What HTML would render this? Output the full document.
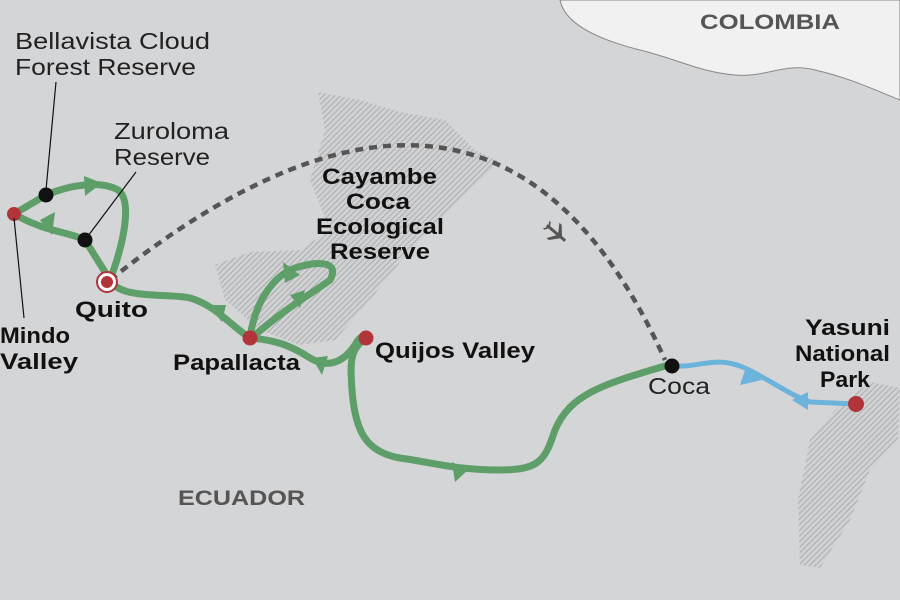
<!DOCTYPE html>
<html><head><style>html,body{margin:0;padding:0;background:#d4d5d7}svg{display:block}text{font-family:"Liberation Sans",sans-serif}</style></head><body>
<svg width="900" height="600" viewBox="0 0 900 600">
<defs><pattern id="h" width="4" height="4" patternUnits="userSpaceOnUse" patternTransform="rotate(45)"><rect width="4" height="4" fill="#d0d1d3"/><line x1="0" y1="0" x2="0" y2="4" stroke="#9a9b9d" stroke-width="1.3"/></pattern></defs>
<rect width="900" height="600" fill="#d4d5d7"/>
<path d="M560,0 C565,25 600,40 640,50 C680,60 700,72 735,75 C765,78 785,62 815,70 C850,78 875,90 900,100 L900,0 Z" fill="#f1f1f2" stroke="#888" stroke-width="1"/>
<path d="M318,92 L360,100 L400,112 L445,120 L475,150 L500,162 L470,190 L430,230 L400,262 L370,300 L335,340 L300,345 L260,330 L225,300 L215,265 L250,252 L300,250 L330,230 L310,180 L325,130 Z" fill="url(#h)"/>
<path d="M870,382 L900,388 L898,440 L870,470 L850,520 L820,568 L800,565 L798,500 L810,440 L835,410 Z" fill="url(#h)"/>
<path d="M110,280 Q492,-25 665,360" fill="none" stroke="#555" stroke-width="4.5" stroke-dasharray="8,6"/>
<g transform="translate(556,233) rotate(40)" fill="#555"><path d="M-12,0 L12,0" stroke="#555" stroke-width="3"/><path d="M2,-1 L-4,-10 L-1,-10 L7,-1 Z M2,1 L-4,10 L-1,10 L7,1 Z M-10,0 L-13,-5 L-11,-5 L-8,0 Z M-10,0 L-13,5 L-11,5 L-8,0Z"/></g>
<g fill="none" stroke="#5e9e68" stroke-width="7" stroke-linecap="round" stroke-linejoin="round">
<path d="M14,214 L46,195 C70,185 100,180 118,190 C132,200 125,240 110,280"/>
<path d="M110,280 L85,240 C70,232 45,232 14,214"/>
<path d="M110,280 C120,300 170,293 190,298 C215,305 230,325 250,338"/>
<path d="M250,338 C255,300 275,275 295,268 C320,260 340,262 330,280 C310,295 290,305 255,335"/>
<path d="M250,338 C275,340 290,345 310,358 C330,370 345,360 355,345 C360,335 366,335 366,338"/>
<path d="M366,338 C350,350 350,360 352,390 C355,430 365,452 400,458 C430,462 455,470 500,470 C540,470 545,460 555,430 C570,395 600,385 665,366"/>
</g>
<path d="M672,366 C700,368 715,355 745,368 C770,380 790,395 810,402 L856,404" fill="none" stroke="#6cb3dc" stroke-width="5"/>
<g fill="#5e9e68">
<path d="M84,176 L102,183 L85,196 Z"/><path d="M40,220 L55,212 L52,235 Z"/>
<path d="M208,305 L222,322 L226,305 Z"/><path d="M283,262 L300,275 L285,283 Z"/><path d="M290,295 L305,290 L300,308 Z"/>
<path d="M312,358 L328,356 L322,375 Z"/><path d="M452,462 L468,470 L455,482 Z"/>
</g>
<g fill="#6cb3dc"><path d="M745,370 L762,380 L740,385 Z"/><path d="M792,400 L808,392 L808,410 Z"/></g>
<circle cx="14" cy="214" r="7" fill="#b0343a"/>
<circle cx="46" cy="195" r="7.5" fill="#111"/>
<circle cx="85" cy="240" r="7.5" fill="#111"/>
<circle cx="107" cy="282" r="10" fill="#fff" stroke="#b0343a" stroke-width="2"/><circle cx="107" cy="282" r="6" fill="#b0343a"/>
<circle cx="250" cy="338" r="7.5" fill="#b0343a"/>
<circle cx="366" cy="338" r="7.5" fill="#b0343a"/>
<circle cx="672" cy="366" r="7.5" fill="#111"/>
<circle cx="856" cy="404" r="8" fill="#b0343a"/>
<g stroke="#111" stroke-width="1.2"><line x1="56" y1="82" x2="46" y2="190"/><line x1="136" y1="172" x2="88" y2="236"/><line x1="14" y1="218" x2="24" y2="318"/></g>
<g font-size="23" fill="#222" lengthAdjust="spacingAndGlyphs">
<text x="15" y="49" textLength="195" lengthAdjust="spacingAndGlyphs">Bellavista Cloud</text><text x="15" y="75" textLength="181" lengthAdjust="spacingAndGlyphs">Forest Reserve</text>
<text x="114" y="139" textLength="115" lengthAdjust="spacingAndGlyphs">Zuroloma</text><text x="114" y="165" textLength="96" lengthAdjust="spacingAndGlyphs">Reserve</text>
<text x="648" y="394" textLength="62" lengthAdjust="spacingAndGlyphs">Coca</text>
</g>
<g font-size="22" font-weight="bold" fill="#111">
<text x="75" y="317" textLength="73" lengthAdjust="spacingAndGlyphs">Quito</text>
<text x="0" y="343" textLength="70" lengthAdjust="spacingAndGlyphs">Mindo</text><text x="0" y="369" textLength="78" lengthAdjust="spacingAndGlyphs">Valley</text>
<text x="173" y="370" textLength="127" lengthAdjust="spacingAndGlyphs">Papallacta</text>
<text x="375" y="358" textLength="160" lengthAdjust="spacingAndGlyphs">Quijos Valley</text>
<text x="322" y="184" textLength="115" lengthAdjust="spacingAndGlyphs">Cayambe</text><text x="346" y="209" textLength="64" lengthAdjust="spacingAndGlyphs">Coca</text><text x="316" y="234" textLength="128" lengthAdjust="spacingAndGlyphs">Ecological</text><text x="330" y="259" textLength="100" lengthAdjust="spacingAndGlyphs">Reserve</text>
<text x="805" y="335" textLength="85" lengthAdjust="spacingAndGlyphs">Yasuni</text><text x="795" y="361" textLength="95" lengthAdjust="spacingAndGlyphs">National</text><text x="820" y="387" textLength="50" lengthAdjust="spacingAndGlyphs">Park</text>
</g>
<g font-size="21" font-weight="bold" fill="#555">
<text x="700" y="29" textLength="140" lengthAdjust="spacingAndGlyphs">COLOMBIA</text><text x="178" y="505" textLength="127" lengthAdjust="spacingAndGlyphs">ECUADOR</text>
</g>
</svg>
</body></html>
